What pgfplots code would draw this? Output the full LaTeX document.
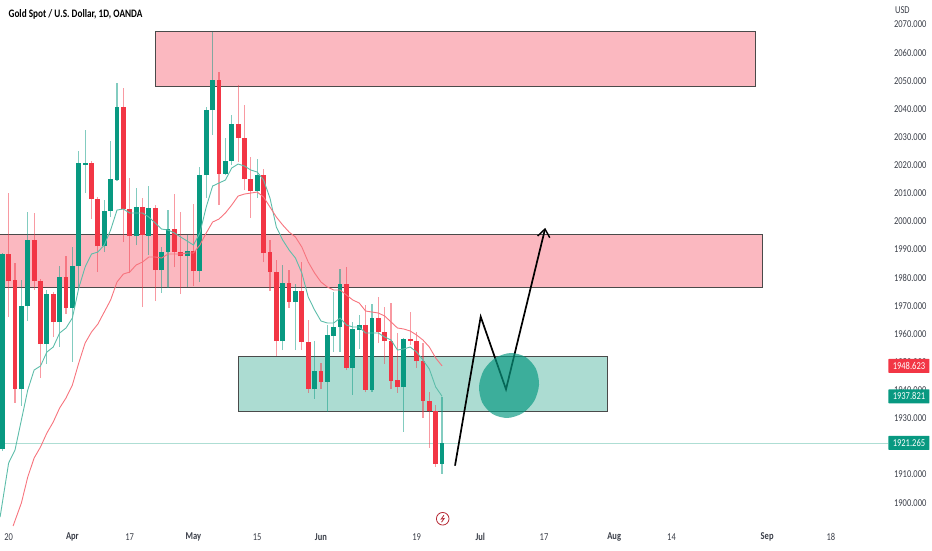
\documentclass[border=0pt]{standalone}
\usepackage{fontspec}
\setmainfont[FakeStretch=0.81]{Carlito}
\usepackage{pgfplots}
\usepackage{pgfplotstable}
\pgfplotsset{compat=1.18}
\definecolor{upc}{HTML}{089981}
\definecolor{downc}{HTML}{F23645}
\definecolor{pinkzone}{HTML}{FBB8C0}
\definecolor{tealzone}{HTML}{ACDCD2}
\definecolor{framec}{HTML}{4A4A4A}
\definecolor{mateal}{HTML}{5DBDAA}
\definecolor{mared}{HTML}{F7747E}
\definecolor{scalec}{HTML}{3A3E48}

% candles, x = bar number, price in USD
\pgfplotstableread{
x bot top high low
-12 1919.10 1988.40 1988.75 1918.39
-9 1940.42 1969.92 1979.16 1934.38
-8 1969.92 1993.37 2003.32 1964.59
-5 1956.41 1974.18 1975.60 1949.31
-3 1964.23 1980.22 1984.13 1955.35
-1 1969.21 1984.13 1990.88 1950.02
0 1984.13 2020.73 2025.00 1976.67
1 2020.20 2020.73 2032.46 2010.07
4 1991.24 2003.68 2007.59 1989.11
5 2003.68 2015.05 2028.55 2001.54
6 2014.69 2040.64 2049.16 2014.34
9 1994.79 2005.10 2011.85 1991.59
11 1994.79 2004.74 2012.56 1988.04
13 1982.71 1989.11 1990.88 1974.54
14 1989.11 1997.28 2004.03 1976.31
17 1987.69 1989.46 1995.15 1976.67
19 1982.35 2016.47 2019.31 1978.45
20 2016.47 2039.57 2040.64 2008.30
21 2039.57 2050.23 2067.29 2030.69
23 2016.83 2021.45 2029.62 2016.47
24 2021.45 2034.59 2037.79 2020.02
28 2010.78 2016.47 2022.16 2008.30
32 1957.48 1978.09 1984.49 1954.28
34 1971.34 1975.25 1977.73 1954.28
37 1940.42 1946.82 1957.48 1936.87
39 1942.91 1959.61 1963.16 1932.25
40 1959.26 1962.45 1974.89 1953.57
41 1962.45 1977.73 1983.07 1953.57
43 1947.88 1961.74 1964.23 1938.29
44 1961.39 1963.16 1966.72 1954.64
46 1940.07 1965.65 1970.63 1939.35
51 1941.13 1958.19 1958.54 1925.14
57 1913.77 1921.265 1937.58 1910.21
}\upcandles

\pgfplotstableread{
x bot top high low
-11 1978.80 1988.40 2010.07 1966.01
-10 1940.42 1979.16 1985.20 1935.45
-7 1978.80 1993.37 2002.97 1975.60
-6 1956.41 1978.80 1979.51 1944.33
-4 1964.23 1974.18 1974.89 1958.90
-2 1969.21 1980.22 1987.69 1967.07
2 2007.94 2020.73 2021.45 2000.83
3 1991.24 2007.94 2008.65 1982.00
7 2004.39 2040.64 2047.39 1992.66
8 1994.79 2004.39 2015.40 1981.64
10 1995.15 2005.10 2008.30 1969.56
12 1982.71 2004.74 2005.81 1971.69
15 1989.11 1997.28 2009.72 1983.78
16 1987.69 1989.11 2003.32 1974.18
18 1982.35 1989.46 2006.16 1977.02
22 2016.83 2050.23 2053.07 2005.81
25 2029.62 2034.59 2048.45 2021.09
26 2015.05 2029.62 2041.35 2011.14
27 2010.78 2015.05 2022.87 2001.19
29 1988.75 2016.47 2018.60 1985.55
30 1982.00 1989.11 1993.37 1975.25
31 1957.48 1982.00 1986.26 1952.15
33 1971.34 1978.09 1982.71 1969.21
35 1957.12 1975.25 1985.55 1954.28
36 1940.42 1957.12 1964.94 1939.00
38 1942.91 1946.82 1949.66 1940.42
42 1947.88 1977.73 1983.78 1947.17
45 1940.07 1963.16 1970.27 1939.35
47 1960.68 1965.65 1973.12 1956.77
48 1957.48 1960.68 1969.56 1949.31
49 1943.26 1957.48 1970.98 1940.42
50 1941.13 1943.62 1960.32 1939.00
52 1957.48 1958.19 1967.78 1956.06
53 1950.37 1957.48 1960.68 1947.88
54 1936.16 1950.37 1956.77 1930.12
55 1932.60 1936.16 1939.35 1919.45
56 1913.77 1932.60 1934.74 1912.70
}\downcandles

\pgfplotstableread{
x y
-12.34 1894.93
-11 1914.12
-10 1918.74
-9 1929.40
-8 1940.07
-7 1947.17
-6 1948.59
-5 1953.57
-4 1955.35
-3 1960.32
-2 1962.10
-1 1965.65
0 1976.31
1 1983.78
2 1988.40
3 1989.11
4 1991.59
5 1996.92
6 2004.03
7 2004.39
8 2002.97
9 2002.97
10 2002.97
11 2001.54
12 1999.41
13 1997.28
14 1996.92
15 1995.86
16 1994.44
17 1993.02
18 1991.59
19 1995.86
20 2005.10
21 2012.56
22 2013.63
23 2014.69
24 2018.96
25 2020.38
26 2019.67
27 2018.25
28 2017.54
29 2014.69
30 2008.30
31 1997.99
32 1993.37
33 1989.82
34 1986.97
35 1981.64
36 1973.12
37 1968.50
38 1964.59
39 1963.88
40 1963.88
41 1965.65
42 1963.16
43 1962.45
44 1962.45
45 1960.32
46 1960.32
47 1960.32
48 1958.90
49 1957.83
50 1954.28
51 1954.64
52 1955.35
53 1953.57
54 1950.73
55 1947.53
56 1941.13
57 1937.82
}\fastma

\pgfplotstableread{
x y
-10.3 1891.74
-9 1899.91
-8 1909.15
-7 1915.90
-6 1919.81
-5 1924.78
-4 1928.69
-3 1933.67
-2 1937.22
-1 1941.84
0 1949.66
1 1956.77
2 1960.68
3 1963.52
4 1967.78
5 1972.05
6 1978.45
7 1981.29
8 1982.00
9 1984.49
10 1985.55
11 1987.33
12 1987.33
13 1986.97
14 1988.40
15 1988.40
16 1988.40
17 1988.75
18 1988.75
19 1991.59
20 1995.86
21 1999.77
22 2000.83
23 2002.97
24 2005.81
25 2009.01
26 2009.72
27 2010.07
28 2010.43
29 2008.65
30 2005.10
31 2001.54
32 1998.70
33 1996.21
34 1994.44
35 1990.88
36 1985.55
37 1981.64
38 1978.45
39 1976.67
40 1975.60
41 1975.60
42 1973.82
43 1972.05
44 1970.98
45 1968.14
46 1967.78
47 1967.43
48 1966.36
49 1964.23
50 1962.10
51 1961.74
52 1961.03
53 1959.61
54 1957.83
55 1955.35
56 1951.44
57 1948.62
}\slowma

\pgfplotsset{
  wick/.style={draw=none, mark=none, forget plot,
    error bars/.cd, y dir=plus, y explicit, error mark=none,
    error bar style={line width=1.2pt, color=#1, opacity=0.5}},
  body/.style={draw=none, mark=none, forget plot,
    error bars/.cd, y dir=plus, y explicit, error mark=none,
    error bar style={line width=4.8pt, color=#1}},
}

\begin{document}
\begin{tikzpicture}
\begin{axis}[
  name=ax, at={(0pt,0pt)}, anchor=south west,
  scale only axis, width=932pt, height=550pt,
  xmin=-12.34, xmax=133.85, ymin=1883.2, ymax=2078.657,
  axis line style={draw=none}, major tick length=0pt,
  xtick={-11,-1,8,18,28,38,53,63,73,84,93,108,118},
  xticklabels={20,\textbf{Apr},17,\textbf{May},15,\textbf{Jun},19,\textbf{Jul},17,\textbf{Aug},14,\textbf{Sep},18},
  xticklabel style={anchor=center, yshift=13pt, font=\fontsize{10.5}{11}\selectfont, text=scalec},
  ytick={1900,1910,1930,1940,...,2070},
  yticklabel pos=right,
  yticklabel style={anchor=east, xshift=-2pt, font=\fontsize{10.5}{11}\selectfont, text=scalec,
    /pgf/number format/.cd, fixed, fixed zerofill, precision=3, 1000 sep={}, assume math mode=true},
]
% zones
\addplot[draw=framec, line width=1pt, fill=pinkzone] coordinates {(11.97,2067.64) (106.1,2067.64) (106.1,2048.10) (11.97,2048.10)} -- cycle;
\addplot[draw=framec, line width=1pt, fill=pinkzone] coordinates {(-13,1995.5) (107.2,1995.5) (107.2,1976.55) (-13,1976.55)} -- cycle;
\addplot[draw=framec, line width=1pt, fill=tealzone] coordinates {(25.0,1951.9) (83.0,1951.9) (83.0,1932.6) (25.0,1932.6)} -- cycle;
% last price line
\addplot[mateal!50, line width=0.5pt] coordinates {(-13,1921.265) (127,1921.265)};
% candles
\addplot[wick=upc] table[x=x, y=low, y error plus expr=\thisrow{high}-\thisrow{low}] {\upcandles};
\addplot[wick=downc] table[x=x, y=low, y error plus expr=\thisrow{high}-\thisrow{low}] {\downcandles};
\addplot[body=upc] table[x=x, y=bot, y error plus expr=\thisrow{top}-\thisrow{bot}] {\upcandles};
\addplot[body=downc] table[x=x, y=bot, y error plus expr=\thisrow{top}-\thisrow{bot}] {\downcandles};
% moving averages
\addplot[mateal, line width=0.9pt] table[x=x, y=y] {\fastma};
\addplot[mared, line width=0.9pt] table[x=x, y=y] {\slowma};
% projected path
\addplot[black, line width=1.7pt, line join=miter] coordinates {(59.03,1913.17) (63.06,1966.12) (67.03,1940.31) (73.15,1997.28)};
\addplot[black, line width=1.4pt] coordinates {(72.0,1994.8) (73.15,1997.28) (73.9,1994.2)};
% circle
\addplot[draw=none, fill=upc, fill opacity=0.68, smooth cycle, tension=0.5] coordinates {
  (72.21,1941.98) (71.71,1947.70) (70.08,1951.81) (67.75,1953.21) (65.37,1951.49) (63.55,1947.15)
  (62.80,1941.34) (63.30,1935.60) (64.93,1931.52) (67.25,1930.12) (69.64,1931.84) (71.46,1936.17)};
% anchors for the price tags
\coordinate (tagR) at (axis cs:130.25,1948.623);
\coordinate (tagF) at (axis cs:130.25,1937.821);
\coordinate (tagL) at (axis cs:130.25,1921.265);
\coordinate (bolt) at (axis cs:57.1,1894.3);
\end{axis}
\tikzset{tag/.style={text=white, minimum width=41pt, minimum height=14pt, inner sep=0pt, rounded corners=0.5pt, font=\fontsize{10.5}{11}\selectfont}}
\node[tag, fill=downc] at (tagR) {1948.623};
\node[tag, fill=upc] at (tagF) {1937.821};
\node[tag, fill=upc] at (tagL) {1921.265};
\node[anchor=west, text=black, font=\fontsize{11.4}{12}\selectfont\bfseries] at (5pt,536pt) {Gold Spot / U.S. Dollar, 1D, OANDA};
\node[text=scalec, font=\fontsize{10.5}{11}\selectfont] at (902.5pt,539.5pt) {USD};
\draw[downc!75!black, line width=0.8pt] (bolt) circle (6.3pt);
\draw[downc!75!black, line width=0.8pt] ([shift={(1.2pt,3.5pt)}]bolt) -- ([shift={(-1.5pt,-0.3pt)}]bolt) -- ([shift={(1.5pt,0.3pt)}]bolt) -- ([shift={(-1.2pt,-3.5pt)}]bolt);
\end{tikzpicture}
\end{document}
